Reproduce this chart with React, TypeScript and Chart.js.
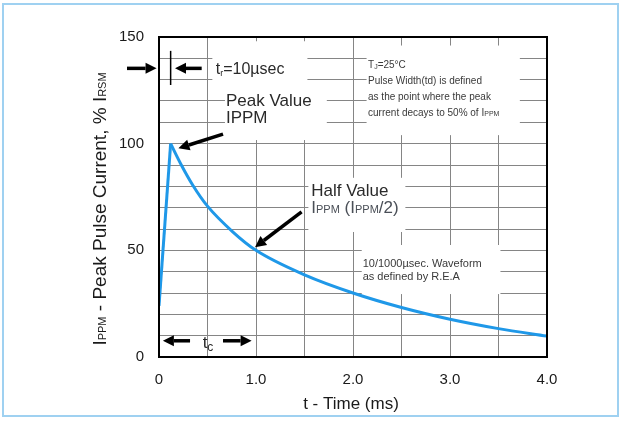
import React, { useEffect, useRef } from 'react';
import { Chart, registerables } from 'chart.js';

Chart.register(...registerables);

// ---- data ----
const riseTimes = [0, 0.12];
const riseValues = [24, 100];
const decayTimes = [0.12, 0.23, 0.35, 0.5, 0.76, 1.0, 1.5, 2.0, 2.5, 3.0, 3.5, 4.0];
const decayValues = [100, 90, 80.4, 70.7, 58.7, 50, 38.5, 30, 23.2, 17.7, 13.3, 9.8];
const xTickLabels: Record<string, string> = { '0': '0', '1': '1.0', '2': '2.0', '3': '3.0', '4': '4.0' };
const yTickLabels = [0, 50, 100, 150];

const FONT = '"Liberation Sans", Arial, Helvetica, sans-serif';
const BLUE = '#1f98e8';
const TEXT = '#2a2a2a';

type Run = [string, number, number?];

function runsWidth(ctx: CanvasRenderingContext2D, runs: Run[]) {
  let w = 0;
  for (const [t, s] of runs) {
    ctx.font = `${s}px ${FONT}`;
    w += ctx.measureText(t).width;
  }
  return w;
}

function drawRuns(ctx: CanvasRenderingContext2D, runs: Run[], x: number, y: number, align: 'left' | 'center' = 'left') {
  let cx = align === 'center' ? x - runsWidth(ctx, runs) / 2 : x;
  ctx.textAlign = 'left';
  ctx.textBaseline = 'alphabetic';
  for (const [t, s, dy] of runs) {
    ctx.font = `${s}px ${FONT}`;
    ctx.fillText(t, cx, y + (dy || 0));
    cx += ctx.measureText(t).width;
  }
}

function arrow(ctx: CanvasRenderingContext2D, x1: number, y1: number, x2: number, y2: number, shaft = 3.5, headLen = 11, headW = 11) {
  const ang = Math.atan2(y2 - y1, x2 - x1);
  const bx = x2 - headLen * Math.cos(ang);
  const by = y2 - headLen * Math.sin(ang);
  ctx.save();
  ctx.strokeStyle = '#000';
  ctx.fillStyle = '#000';
  ctx.lineWidth = shaft;
  ctx.beginPath();
  ctx.moveTo(x1, y1);
  ctx.lineTo(bx, by);
  ctx.stroke();
  ctx.beginPath();
  ctx.moveTo(x2, y2);
  ctx.lineTo(bx + (headW / 2) * Math.sin(ang), by - (headW / 2) * Math.cos(ang));
  ctx.lineTo(bx - (headW / 2) * Math.sin(ang), by + (headW / 2) * Math.cos(ang));
  ctx.closePath();
  ctx.fill();
  ctx.restore();
}

const annotPlugin = {
  id: 'annot',
  beforeDatasetsDraw(chart: any) {
    const { ctx } = chart;
    const xs = chart.scales.x;
    const ys = chart.scales.y;
    const px = (v: number) => xs.getPixelForValue(v);
    const py = (v: number) => ys.getPixelForValue(v);
    const boxes = [
      [0.55, 1.53, 148, 124],
      [0.68, 1.73, 126, 101.7],
      [2.14, 3.72, 146, 104],
      [1.54, 2.54, 84, 58.6],
      [2.09, 3.52, 52.5, 29.5],
    ];
    ctx.save();
    ctx.fillStyle = '#fff';
    for (const [x0, x1, y0, y1] of boxes) {
      ctx.fillRect(px(x0), py(y0), px(x1) - px(x0), py(y1) - py(y0));
    }
    ctx.restore();
  },
  afterDatasetsDraw(chart: any) {
    const { ctx, chartArea } = chart;
    const xs = chart.scales.x;
    const ys = chart.scales.y;
    const px = (v: number) => xs.getPixelForValue(v);
    const py = (v: number) => ys.getPixelForValue(v);

    ctx.save();
    // plot frame
    ctx.strokeStyle = '#000';
    ctx.lineWidth = 2;
    ctx.strokeRect(chartArea.left, chartArea.top, chartArea.right - chartArea.left, chartArea.bottom - chartArea.top);

    // t_r marker
    arrow(ctx, px(-0.33), py(135.3), px(-0.025), py(135.3));
    ctx.strokeStyle = '#000';
    ctx.lineWidth = 1.5;
    ctx.beginPath();
    ctx.moveTo(px(0.12), py(143.5));
    ctx.lineTo(px(0.12), py(127.5));
    ctx.stroke();
    arrow(ctx, px(0.44), py(135.3), px(0.165), py(135.3));
    ctx.fillStyle = TEXT;
    drawRuns(ctx, [['t', 16], ['r', 9, 2], ['=10µsec', 16]], px(0.585), py(135.3) + 6);

    // Peak value
    drawRuns(ctx, [['Peak Value', 17]], px(0.69), py(120.5) + 6);
    drawRuns(ctx, [['IPPM', 17]], px(0.69), py(112.3) + 6);
    arrow(ctx, px(0.66), py(104.5), px(0.2), py(97.8));

    // Half value
    ctx.fillStyle = TEXT;
    drawRuns(ctx, [['Half Value', 17]], px(1.57), py(78.5) + 6);
    ctx.fillStyle = '#4a4f57';
    drawRuns(ctx, [['I', 17], ['PPM', 11], [' (I', 17], ['PPM', 11], ['/2)', 17]], px(1.57), py(70.5) + 6);
    arrow(ctx, px(1.47), py(68), px(0.99), py(51.5));

    // top-right note
    ctx.fillStyle = '#3a3a3a';
    drawRuns(ctx, [['T', 10], ['J', 7, 1], ['=25°C', 10]], px(2.155), py(136.9) + 3.5);
    drawRuns(ctx, [['Pulse Width(td) is defined', 10]], px(2.155), py(129.5) + 3.5);
    drawRuns(ctx, [['as the point where the peak', 10]], px(2.155), py(122) + 3.5);
    drawRuns(ctx, [['current decays to 50% of I', 10], ['PPM', 7]], px(2.155), py(114.5) + 3.5);

    // waveform note
    drawRuns(ctx, [['10/1000µsec. Waveform', 11]], px(2.1), py(44) + 4);
    drawRuns(ctx, [['as defined by R.E.A', 11]], px(2.1), py(38.2) + 4);

    // t_c marker
    arrow(ctx, px(0.32), py(7.6), px(0.04), py(7.6));
    arrow(ctx, px(0.66), py(7.6), px(0.955), py(7.6));
    ctx.fillStyle = TEXT;
    drawRuns(ctx, [['t', 17], ['c', 12, 3]], px(0.45), py(7.6) + 7);

    // axis titles
    ctx.fillStyle = '#1a1a1a';
    drawRuns(ctx, [['t - Time (ms)', 17]], (chartArea.left + chartArea.right) / 2 - 2, chartArea.bottom + 52, 'center');
    ctx.translate(106, (chartArea.top + chartArea.bottom) / 2 + 12);
    ctx.rotate(-Math.PI / 2);
    drawRuns(ctx, [['I', 19], ['PPM', 11], [' - Peak Pulse Current, % I', 19], ['RSM', 11]], 0, 0, 'center');
    ctx.restore();
  },
};

export default function App() {
  const ref = useRef<HTMLCanvasElement | null>(null);
  useEffect(() => {
    if (!ref.current) return;
    const tickFont = { family: FONT, size: 15 };
    const chart = new Chart(ref.current, {
      type: 'line',
      data: {
        datasets: [
          {
            data: riseTimes.map((t, i) => ({ x: t, y: riseValues[i] })),
            borderColor: BLUE,
            borderWidth: 3,
            pointRadius: 0,
            tension: 0,
          },
          {
            data: decayTimes.map((t, i) => ({ x: t, y: decayValues[i] })),
            borderColor: BLUE,
            borderWidth: 3,
            pointRadius: 0,
            cubicInterpolationMode: 'monotone',
          },
        ],
      },
      options: {
        animation: false,
        responsive: false,
        devicePixelRatio: 1,
        layout: { padding: { left: 0, right: 75, top: 37, bottom: 0 } },
        plugins: { legend: { display: false }, tooltip: { enabled: false } },
        scales: {
          x: {
            type: 'linear',
            min: 0,
            max: 4,
            afterFit(s: any) {
              s.height = 64;
            },
            ticks: {
              stepSize: 0.5,
              autoSkip: false,
              maxRotation: 0,
              padding: 14,
              font: tickFont,
              color: '#1a1a1a',
              callback: (v: any) => xTickLabels[String(v)] ?? '',
            },
            grid: { color: '#858585', lineWidth: 1, drawTicks: false },
            border: { color: '#000', width: 2 },
          },
          y: {
            type: 'linear',
            min: 0,
            max: 150,
            afterFit(s: any) {
              s.width = 159;
            },
            ticks: {
              stepSize: 10,
              autoSkip: false,
              padding: 15,
              font: tickFont,
              color: '#1a1a1a',
              callback: (v: any) => (yTickLabels.includes(Number(v)) ? String(v) : ''),
            },
            grid: { color: '#858585', lineWidth: 1, drawTicks: false },
            border: { color: '#000', width: 2 },
          },
        },
      } as any,
      plugins: [annotPlugin],
    });
    return () => chart.destroy();
  }, []);

  return (
    <div style={{ position: 'fixed', left: 0, top: 0, width: 622, height: 421, background: '#fff', overflow: 'hidden' }}>
      <div
        style={{
          position: 'absolute',
          left: 2,
          top: 3,
          width: 613,
          height: 410,
          border: '2px solid #9fd1f1',
          boxSizing: 'content-box',
        }}
      />
      <canvas ref={ref} width={622} height={421} style={{ position: 'absolute', left: 0, top: 0 }} />
    </div>
  );
}
